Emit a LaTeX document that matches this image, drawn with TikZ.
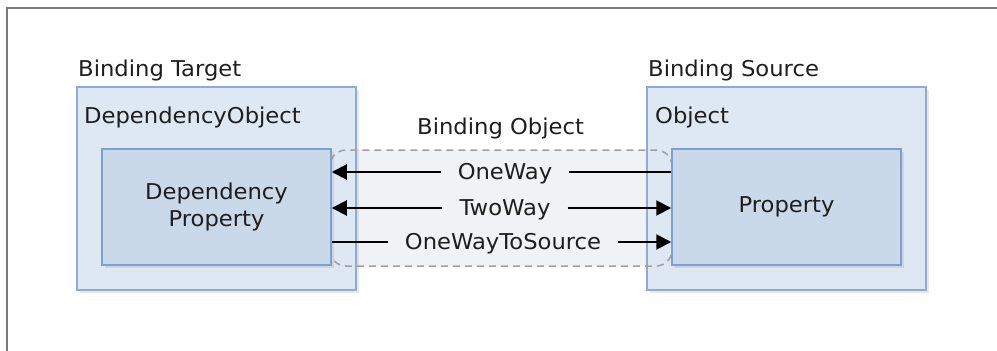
\documentclass[tikz,border=0pt]{standalone}
\usepackage{fontspec}
\setmainfont[FakeStretch=1.04]{DejaVu Sans}
\usetikzlibrary{arrows.meta,shadows}
\definecolor{outerfill}{HTML}{DDE8F3}
\definecolor{outerline}{HTML}{8EAADB}
\definecolor{innerfill}{HTML}{C9D9EA}
\definecolor{innerline}{HTML}{7E9FD3}
\definecolor{bofill}{HTML}{F1F2F5}
\definecolor{boline}{HTML}{A0A0A0}
\definecolor{framec}{HTML}{7A7A7A}
\definecolor{txt}{HTML}{1E1E1E}
\begin{document}
\begin{tikzpicture}[x=1pt,y=-1pt,
  every node/.style={font=\fontsize{21.8}{27}\selectfont, text=txt},
  outerbox/.style={draw=outerline, fill=outerfill, line width=1.5pt, inner sep=0pt,
    drop shadow={opacity=0.18, shadow xshift=2.5pt, shadow yshift=-2.5pt}},
  innerbox/.style={draw=innerline, fill=innerfill, line width=1.5pt, inner sep=0pt, align=center,
    drop shadow={opacity=0.18, shadow xshift=2.5pt, shadow yshift=-2.5pt}},
  modelabel/.style={inner xsep=17pt, inner ysep=0pt, text height=15.7pt, text depth=0pt},
  conn/.style={line width=2pt, black},
  tip/.style={-{Triangle[length=15pt,width=15pt]}},
  tipback/.style={{Triangle[length=15pt,width=15pt]}-},
  caption/.style={anchor=base west, inner sep=0pt},
  boregion/.style={rounded corners=16pt}
]
\useasboundingbox (0,0) rectangle (997,351);
% frame
\draw[framec, line width=2pt] (7,351) -- (7,8) -- (997,8);

% binding object region fill (behind)
\fill[bofill, boregion] (330,150) rectangle (672,266);

% outer boxes
\node[outerbox, minimum width=279pt, minimum height=203pt] (dobj) at (216.5,188.5) {};
\node[outerbox, minimum width=279pt, minimum height=203pt] (obj) at (786.5,188.5) {};

% binding object region outline
\draw[boline, line width=1.5pt, dash pattern=on 7pt off 5pt, boregion]
  (330,150) rectangle (672,266);

% inner boxes
\node[innerbox, minimum width=229pt, minimum height=116pt] (dp) at (216.5,207) {Dependency\\Property};
\node[innerbox, minimum width=229pt, minimum height=116pt] (p) at (786.5,207) {Property};

% captions
\node[caption] (bt) at (78,76) {Binding Target};
\node[caption] (bs) at (648,76) {Binding Source};
\node[caption] (do) at (84,123) {DependencyObject};
\node[caption] (ob) at (655,123) {Object};
\node[caption] (bo) at (417,134) {Binding Object};

% modes
\node[modelabel] (ow) at (505,172) {OneWay};
\node[modelabel] (tw) at (505,208) {TwoWay};
\node[modelabel] (ots) at (503,242) {OneWayToSource};

\draw[conn, tipback] (dp.east |- ow) -- (ow.west);
\draw[conn] (ow.east) -- (p.west |- ow);
\draw[conn, tipback] (dp.east |- tw) -- (tw.west);
\draw[conn, tip] (tw.east) -- (p.west |- tw);
\draw[conn] (dp.east |- ots) -- (ots.west);
\draw[conn, tip] (ots.east) -- (p.west |- ots);
\end{tikzpicture}
\end{document}
